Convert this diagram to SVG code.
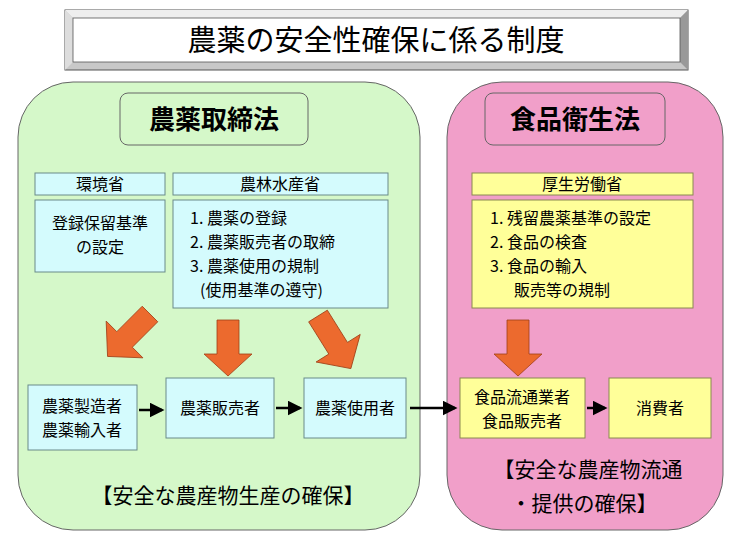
<svg xmlns="http://www.w3.org/2000/svg" width="737" height="540" viewBox="0 0 737 540">
<style>
text{font-family:"Noto Sans CJK JP","Liberation Sans",sans-serif;fill:#000}
.b{fill:#d4fbfd;stroke:#6a8a8a;stroke-width:1}
.y{fill:#ffff99;stroke:#8a8a50;stroke-width:1}
.o{fill:#ec6a2e;stroke:#a04018;stroke-width:0.8}
.t{font-size:16px}
.c{text-anchor:middle}
</style>
<defs><marker id="ah" markerWidth="6" markerHeight="6" refX="5" refY="3" orient="auto"><path d="M0,0L6,3L0,6z" fill="#000"/></marker></defs>
<rect width="737" height="540" fill="#fff"/>
<g id="title">
<rect x="65" y="10" width="623" height="60" fill="#c8c8c8" stroke="#555"/>
<polygon points="65,10 688,10 680,18 73,18" fill="#eee"/>
<polygon points="65,10 73,18 73,62 65,70" fill="#ddd"/>
<polygon points="688,10 680,18 680,62 688,70" fill="#999"/>
<rect x="73" y="18" width="607" height="44" fill="#fff" stroke="#555" stroke-width="0.8"/>
<text x="376" y="51" class="c" font-size="29">農薬の安全性確保に係る制度</text>
</g>
<g id="green">
<rect x="18" y="82" width="402" height="448" rx="55" fill="#d5f8c9" stroke="#666"/>
<rect x="120" y="93" width="188" height="52" rx="8" fill="#d5f8c9" stroke="#666"/>
<text x="214" y="129" class="c" font-size="26" font-weight="bold">農薬取締法</text>
</g>
<g id="pink">
<rect x="447" y="82" width="276" height="448" rx="55" fill="#f19fc9" stroke="#666"/>
<rect x="485" y="93" width="180" height="52" rx="8" fill="#f19fc9" stroke="#666"/>
<text x="575" y="129" class="c" font-size="26" font-weight="bold">食品衛生法</text>
</g>
<g id="env"><rect class="b" x="35" y="173" width="130" height="22"/><text x="100" y="190" class="c t">環境省</text></g>
<g id="maff"><rect class="b" x="173" y="173" width="215" height="22"/><text x="280" y="190" class="c t">農林水産省</text></g>
<g id="env-box"><rect class="b" x="35" y="200" width="130" height="72"/><text x="100" y="229" class="c t">登録保留基準</text><text x="100" y="253" class="c t">の設定</text></g>
<g id="maff-box"><rect class="b" x="173" y="200" width="215" height="108"/>
<text x="190" y="224" class="t">1. 農薬の登録</text>
<text x="190" y="248" class="t">2. 農薬販売者の取締</text>
<text x="190" y="272" class="t">3. 農薬使用の規制</text>
<text x="200" y="296" class="t">(使用基準の遵守)</text></g>
<g id="mhlw"><rect class="y" x="472" y="173" width="221" height="22"/><text x="582" y="190" class="c t">厚生労働省</text></g>
<g id="mhlw-box"><rect class="y" x="472" y="200" width="221" height="108"/>
<text x="490" y="224" class="t">1. 残留農薬基準の設定</text>
<text x="490" y="248" class="t">2. 食品の検査</text>
<text x="490" y="272" class="t">3. 食品の輸入</text>
<text x="514" y="296" class="t">販売等の規制</text></g>
<g id="orange-arrows">
<polygon class="o" points="0,-11 36,-11 36,-26 60,0 36,26 36,11 0,11" transform="translate(150,314) rotate(135)"/>
<polygon class="o" points="0,-11 34,-11 34,-24 56,0 34,24 34,11 0,11" transform="translate(228,320) rotate(90)"/>
<polygon class="o" points="0,-11 38,-11 38,-26 62,0 38,26 38,11 0,11" transform="translate(318,316) rotate(58)"/>
<polygon class="o" points="0,-11 34,-11 34,-24 56,0 34,24 34,11 0,11" transform="translate(518,320) rotate(90)"/>
</g>
<g id="maker"><rect class="b" x="28" y="385" width="109" height="65"/><text x="82" y="412" class="c t">農薬製造者</text><text x="82" y="436" class="c t">農薬輸入者</text></g>
<g id="seller"><rect class="b" x="166" y="378" width="108" height="60"/><text x="220" y="414" class="c t">農薬販売者</text></g>
<g id="user"><rect class="b" x="304" y="378" width="102" height="60"/><text x="355" y="414" class="c t">農薬使用者</text></g>
<g id="dist"><rect class="y" x="460" y="378" width="125" height="60"/><text x="522" y="403" class="c t">食品流通業者</text><text x="522" y="427" class="c t">食品販売者</text></g>
<g id="consumer"><rect class="y" x="609" y="378" width="102" height="60"/><text x="660" y="414" class="c t">消費者</text></g>
<g id="connectors" stroke="#000" stroke-width="2.5" fill="none">
<line x1="139" y1="410" x2="162" y2="410" marker-end="url(#ah)"/>
<line x1="276" y1="408" x2="300" y2="408" marker-end="url(#ah)"/>
<line x1="410" y1="408" x2="455" y2="408" marker-end="url(#ah)"/>
<line x1="587" y1="408" x2="605" y2="408" marker-end="url(#ah)"/>
</g>
<text x="228" y="503" class="c" font-size="21">【安全な農産物生産の確保】</text>
<text x="588" y="477" class="c" font-size="21">【安全な農産物流通</text>
<text x="584" y="511" class="c" font-size="21">・提供の確保】</text>
</svg>
